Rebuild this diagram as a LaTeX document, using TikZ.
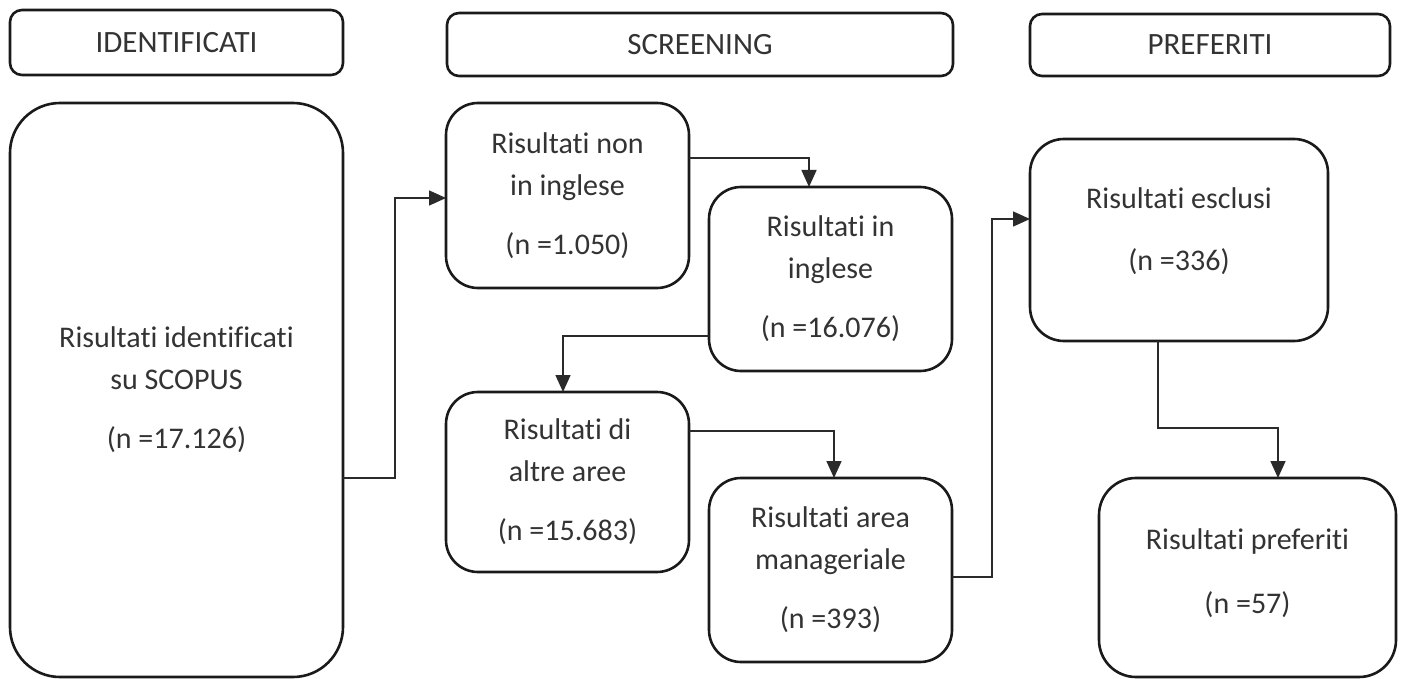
\documentclass[tikz,border=0pt]{standalone}
\usepackage{fontspec}
\setmainfont{Carlito}[Ligatures={NoCommon,NoContextual}]
\usetikzlibrary{arrows.meta}
\definecolor{txt}{HTML}{333333}
\definecolor{edge}{HTML}{1A1A1A}
\definecolor{conncol}{HTML}{2A2A2A}
\tikzset{
  boxbase/.style={draw=edge, line width=2.6pt, fill=white, inner sep=0pt, outer sep=0pt,
    align=center, text=txt, font=\fontsize{30}{42}\selectfont},
  header/.style={boxbase, rounded corners=12pt, font=\fontsize{31}{36}\selectfont},
  stepbox/.style={boxbase, rounded corners=#1},
  conn/.style={draw=conncol, line width=1.5pt, -{Triangle[length=17pt,width=15pt]}}
}
\begin{document}
\begin{tikzpicture}[x=1pt,y=-1pt]
\useasboundingbox (0,0) rectangle (1405,679);
% headers
\node[header, minimum width=333pt, minimum height=65pt] (hId) at (176.5,42.5) {IDENTIFICATI};
\node[header, minimum width=506pt, minimum height=63pt] (hScr) at (700,44.5) {SCREENING};
\node[header, minimum width=360pt, minimum height=62pt] (hPref) at (1210,45) {PREFERITI};
% boxes
\node[stepbox=50pt, minimum width=333pt, minimum height=574pt] (scopus) at (176.5,390)
  {Risultati identificati\\su SCOPUS\\[17pt](n =17.126)};
\node[stepbox=32pt, minimum width=243pt, minimum height=185pt] (nonIng) at (567.5,195.5)
  {Risultati non\\in inglese\\[17pt](n =1.050)};
\node[stepbox=32pt, minimum width=243pt, minimum height=184pt] (ing) at (830.5,279)
  {Risultati in\\inglese\\[17pt](n =16.076)};
\node[stepbox=32pt, minimum width=243pt, minimum height=180pt] (altre) at (567.5,482)
  {Risultati di\\altre aree\\[17pt](n =15.683)};
\node[stepbox=32pt, minimum width=243pt, minimum height=184pt] (manag) at (830.5,570)
  {Risultati area\\manageriale\\[17pt](n =393)};
\node[stepbox=34pt, minimum width=298pt, minimum height=202pt] (escl) at (1179,240)
  {Risultati esclusi\\[20pt](n =336)\\[-20pt]\mbox{}};
\node[stepbox=37pt, minimum width=297pt, minimum height=199pt] (pref) at (1247.5,577.5)
  {Risultati preferiti\\[22pt](n =57)\\[-30pt]\mbox{}};
% helper coordinates
\coordinate (c1y) at (0,478);
\coordinate (c1x) at (395,198);
\coordinate (c2y) at (0,158);
\coordinate (c2x) at (809,0);
\coordinate (c3y) at (0,336);
\coordinate (c3x) at (563,0);
\coordinate (c4y) at (0,431);
\coordinate (c4x) at (834,0);
\coordinate (c5y) at (0,577);
\coordinate (c5x) at (992,219);
\coordinate (c6x) at (1158,0);
\coordinate (c6y) at (1278,428);
% connectors
\draw[conn] (scopus.east |- c1y) -| (c1x) -- (nonIng.west |- c1x);
\draw[conn] (nonIng.east |- c2y) -| (ing.north -| c2x);
\draw[conn] (ing.west |- c3y) -| (altre.north -| c3x);
\draw[conn] (altre.east |- c4y) -| (manag.north -| c4x);
\draw[conn] (manag.east |- c5y) -| (c5x) -- (escl.west |- c5x);
\draw[conn] (escl.south -| c6x) |- (c6y) -- (pref.north -| c6y);
\end{tikzpicture}
\end{document}
